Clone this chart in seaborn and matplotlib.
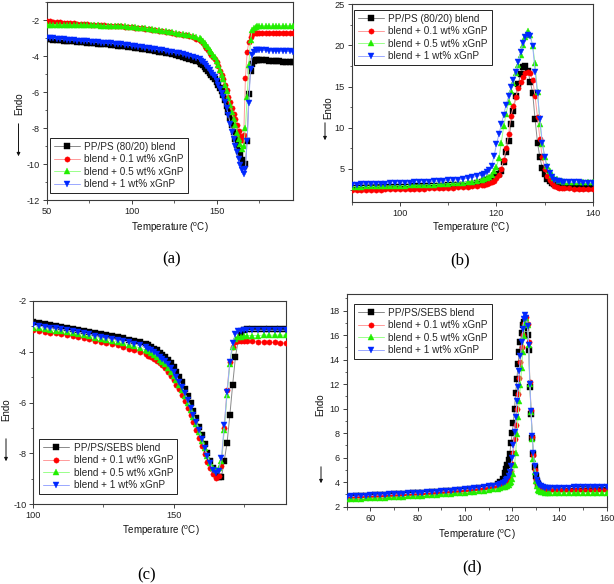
import numpy as np
import matplotlib
matplotlib.use("Agg")
import matplotlib.pyplot as plt
from matplotlib.patches import FancyArrowPatch
from matplotlib.ticker import MultipleLocator
import seaborn as sns

sns.set_style("ticks")
plt.rcParams['font.family'] = ['Liberation Sans', 'DejaVu Sans']
plt.rcParams['axes.unicode_minus'] = False

# ---------------- data ----------------
labels_a = ["PP/PS (80/20) blend", "blend + 0.1 wt% xGnP", "blend + 0.5 wt% xGnP", "blend + 1 wt% xGnP"]
labels_c = ["PP/PS/SEBS blend", "blend + 0.1 wt% xGnP", "blend + 0.5 wt% xGnP", "blend + 1 wt% xGnP"]

# (a) melting, PP/PS
a_temp = [50, 52, 54, 56, 58, 60, 62, 64, 66, 68, 70, 72, 74, 76, 78, 80, 82, 84, 86, 88,
          90, 92, 94, 96, 98, 100, 102, 104, 106, 108, 110, 112, 114, 116, 118, 120, 122, 124, 126, 128,
          130, 132, 134, 136, 138, 140,
          141, 142, 143, 144, 145, 146, 147, 148, 149, 150, 151, 152, 153, 154, 155, 156, 157, 158, 159, 160,
          161, 162, 163, 164, 165, 166, 167, 168, 169, 170, 171, 172, 173, 174, 175,
          177, 179, 181, 183, 185, 187, 189, 191, 193, 195]
a_blend = [-3.05, -3.07, -3.09, -3.10, -3.12, -3.14, -3.16, -3.17, -3.19, -3.20,
           -3.22, -3.24, -3.26, -3.27, -3.29, -3.31, -3.33, -3.35, -3.36, -3.38,
           -3.40, -3.42, -3.45, -3.47, -3.50, -3.52, -3.55, -3.58, -3.60, -3.63,
           -3.66, -3.69, -3.72, -3.76, -3.79, -3.82, -3.86, -3.90, -3.95, -3.99,
           -4.04, -4.09, -4.14, -4.20, -4.27, -4.35,
           -4.42, -4.50, -4.60, -4.70, -4.81, -4.93, -5.05, -5.16, -5.28, -5.44,
           -5.60, -5.76, -5.96, -6.18, -6.44, -6.75, -7.10, -7.46, -7.83, -8.22,
           -8.60, -8.93, -9.25, -9.52, -9.80, -10.10, -10.00, -8.70, -6.10, -4.85,
           -4.43, -4.26, -4.21, -4.20, -4.21,
           -4.22, -4.23, -4.25, -4.27, -4.29, -4.30, -4.32, -4.33, -4.35, -4.36]
a_01 = [-2.05, -2.07, -2.09, -2.11, -2.13, -2.15, -2.16, -2.18, -2.19, -2.21,
        -2.22, -2.23, -2.24, -2.25, -2.27, -2.28, -2.29, -2.30, -2.31, -2.32,
        -2.33, -2.34, -2.35, -2.37, -2.38, -2.40, -2.42, -2.45, -2.47, -2.50,
        -2.52, -2.55, -2.57, -2.60, -2.63, -2.66, -2.69, -2.72, -2.75, -2.79,
        -2.82, -2.86, -2.91, -2.97, -3.04, -3.10,
        -3.17, -3.30, -3.43, -3.55, -3.68, -3.82, -3.96, -4.06, -4.17, -4.36,
        -4.58, -4.82, -5.06, -5.30, -5.60, -5.88, -6.25, -6.55, -6.90, -7.20,
        -7.50, -7.85, -8.15, -8.42, -8.65, -8.40, -5.20, -3.80, -3.20, -2.92,
        -2.78, -2.72, -2.70, -2.70, -2.70,
        -2.70, -2.71, -2.71, -2.72, -2.72, -2.73, -2.73, -2.74, -2.74, -2.74]
a_05 = [-2.25, -2.25, -2.26, -2.26, -2.27, -2.27, -2.27, -2.28, -2.28, -2.28,
        -2.28, -2.29, -2.29, -2.29, -2.30, -2.30, -2.31, -2.31, -2.32, -2.32,
        -2.33, -2.34, -2.35, -2.36, -2.37, -2.38, -2.40, -2.42, -2.44, -2.46,
        -2.48, -2.51, -2.54, -2.56, -2.59, -2.62, -2.65, -2.68, -2.71, -2.75,
        -2.78, -2.82, -2.86, -2.90, -2.95, -3.00,
        -3.08, -3.17, -3.25, -3.37, -3.50, -3.64, -3.79, -3.93, -4.08, -4.30,
        -4.52, -4.80, -5.05, -5.30, -5.60, -5.95, -6.36, -6.73, -7.10, -7.50,
        -7.85, -8.25, -8.60, -8.90, -9.15, -9.00, -8.00, -6.30, -4.50, -3.10,
        -2.55, -2.42, -2.38, -2.36, -2.35,
        -2.34, -2.34, -2.34, -2.34, -2.34, -2.33, -2.33, -2.33, -2.33, -2.33]
a_1 = [-2.98, -3.00, -3.02, -3.04, -3.06, -3.08, -3.09, -3.11, -3.12, -3.14,
       -3.16, -3.17, -3.19, -3.21, -3.22, -3.24, -3.26, -3.27, -3.29, -3.30,
       -3.32, -3.34, -3.36, -3.38, -3.41, -3.43, -3.45, -3.48, -3.50, -3.53,
       -3.56, -3.59, -3.62, -3.65, -3.68, -3.72, -3.75, -3.79, -3.82, -3.86,
       -3.90, -3.94, -3.98, -4.03, -4.10, -4.18,
       -4.25, -4.33, -4.43, -4.55, -4.67, -4.80, -4.93, -5.06, -5.19, -5.40,
       -5.62, -5.84, -6.06, -6.30, -6.55, -6.90, -7.30, -7.75, -8.23, -8.60,
       -8.98, -9.35, -9.70, -10.05, -10.35, -10.58, -10.30, -8.70, -6.60, -4.70,
       -3.95, -3.75, -3.69, -3.68, -3.68,
       -3.68, -3.69, -3.70, -3.70, -3.71, -3.72, -3.73, -3.73, -3.74, -3.75]

# (b) crystallization, PP/PS
b_temp = [90, 91, 92, 93, 94, 95, 96, 97, 98, 99, 100, 101, 102, 103, 104, 105, 106, 107, 108, 109,
          110, 111, 112, 113, 114, 115, 116, 117,
          117.5, 118, 118.5, 119, 119.5, 120, 120.5, 121, 121.5, 122,
          122.5, 123, 123.5, 124, 124.5, 125, 125.5, 126, 126.5, 127,
          127.5, 128, 128.5, 129, 129.5, 130, 130.5, 131, 131.5, 132,
          132.5, 133, 133.5, 134,
          135, 136, 137, 138, 139, 140]
b_blend = [2.75, 2.76, 2.77, 2.78, 2.79, 2.80, 2.81, 2.82, 2.83, 2.84,
           2.85, 2.86, 2.87, 2.88, 2.90, 2.91, 2.92, 2.94, 2.96, 2.98,
           3.00, 3.02, 3.05, 3.08, 3.12, 3.20, 3.30, 3.45,
           3.55, 3.65, 3.80, 3.95, 4.10, 4.25, 4.40, 4.80, 5.80, 7.00,
           8.40, 10.40, 12.00, 13.80, 15.30, 16.50, 17.40, 17.50, 16.90, 15.60,
           14.20, 11.00, 8.20, 6.40, 5.10, 4.40, 3.80, 3.50, 3.30, 3.15,
           3.05, 2.95, 2.88, 2.83,
           2.80, 2.77, 2.75, 2.73, 2.72, 2.70]
b_01 = [2.45, 2.46, 2.47, 2.48, 2.49, 2.50, 2.51, 2.52, 2.53, 2.54,
        2.55, 2.56, 2.58, 2.59, 2.60, 2.62, 2.64, 2.66, 2.68, 2.70,
        2.72, 2.74, 2.77, 2.80, 2.84, 2.90, 2.97, 3.06,
        3.12, 3.20, 3.30, 3.42, 3.60, 3.85, 4.30, 5.00, 6.10, 7.50,
        9.20, 11.40, 12.60, 13.70, 14.80, 15.60, 16.20, 16.60, 16.80, 16.60,
        15.80, 13.80, 11.30, 8.60, 6.40, 5.00, 4.20, 3.70, 3.30, 2.95,
        2.80, 2.72, 2.68, 2.66,
        2.64, 2.63, 2.62, 2.62, 2.61, 2.60]
b_05 = [2.85, 2.86, 2.87, 2.88, 2.89, 2.90, 2.92, 2.93, 2.94, 2.96,
        2.97, 2.99, 3.01, 3.03, 3.05, 3.07, 3.09, 3.12, 3.15, 3.18,
        3.21, 3.25, 3.29, 3.34, 3.40, 3.48, 3.58, 3.72,
        3.80, 3.90, 4.05, 4.30, 4.70, 5.30, 6.30, 8.20, 10.20, 11.70,
        13.10, 14.40, 15.40, 16.60, 17.60, 18.80, 20.00, 21.00, 21.70, 21.30,
        19.90, 17.80, 14.30, 10.50, 8.00, 6.40, 5.40, 4.70, 4.30, 3.95,
        3.75, 3.60, 3.52, 3.48,
        3.44, 3.42, 3.41, 3.40, 3.40, 3.40]
b_1 = [3.10, 3.12, 3.14, 3.16, 3.18, 3.20, 3.22, 3.24, 3.26, 3.28,
       3.30, 3.32, 3.34, 3.37, 3.40, 3.43, 3.46, 3.50, 3.54, 3.58,
       3.62, 3.67, 3.72, 3.80, 3.88, 3.98, 4.12, 4.30,
       4.42, 4.60, 4.90, 5.40, 6.60, 8.00, 9.20, 10.40, 11.60, 12.80,
       13.80, 14.90, 15.80, 16.80, 18.00, 19.20, 20.30, 21.00, 21.30, 21.10,
       19.90, 16.80, 14.20, 11.00, 8.20, 6.40, 5.20, 4.50, 4.00, 3.70,
       3.58, 3.50, 3.45, 3.42,
       3.40, 3.38, 3.37, 3.36, 3.35, 3.35]

# (c) melting, PP/PS/SEBS
c_temp = [100, 102, 104, 106, 108, 110, 112, 114, 116, 118, 120, 122, 124, 126, 128, 130, 132, 134, 136, 138, 140,
          141, 142, 143, 144, 145, 146, 147, 148, 149, 150, 151, 152, 153, 154, 155, 156, 157, 158, 159, 160,
          161, 162, 163, 164, 165, 166, 167, 168, 169, 170, 171, 172, 173, 174, 175,
          176, 178, 180, 182, 184, 186, 188, 190]
c_blend = [-2.82, -2.86, -2.90, -2.94, -2.98, -3.01, -3.05, -3.09, -3.13, -3.17,
           -3.21, -3.26, -3.30, -3.34, -3.38, -3.42, -3.47, -3.52, -3.57, -3.63, -3.70,
           -3.75, -3.81, -3.88, -3.95, -4.03, -4.11, -4.20, -4.32, -4.45, -4.60,
           -4.80, -5.00, -5.20, -5.47, -5.75, -6.03, -6.32, -6.62, -6.95, -7.30,
           -7.65, -8.00, -8.30, -8.60, -8.82, -8.95, -8.95, -8.30, -7.60, -6.50,
           -5.30, -4.20, -3.55, -3.25, -3.15,
           -3.12, -3.11, -3.10, -3.10, -3.10, -3.10, -3.10, -3.10]
c_01 = [-3.15, -3.18, -3.22, -3.25, -3.28, -3.32, -3.35, -3.39, -3.43, -3.47,
        -3.51, -3.56, -3.60, -3.65, -3.70, -3.75, -3.81, -3.88, -3.95, -4.02, -4.10,
        -4.16, -4.22, -4.29, -4.36, -4.44, -4.54, -4.65, -4.80, -4.96, -5.12,
        -5.30, -5.48, -5.70, -5.95, -6.20, -6.50, -6.78, -7.07, -7.40, -7.72,
        -8.02, -8.33, -8.60, -8.82, -8.98, -8.90, -8.50, -7.00, -5.50, -4.40,
        -3.80, -3.62, -3.58, -3.57, -3.57,
        -3.58, -3.59, -3.60, -3.61, -3.62, -3.63, -3.64, -3.65]
c_05 = [-3.05, -3.08, -3.11, -3.14, -3.17, -3.20, -3.23, -3.27, -3.31, -3.35,
        -3.39, -3.44, -3.48, -3.52, -3.57, -3.62, -3.67, -3.72, -3.78, -3.85, -3.93,
        -3.99, -4.06, -4.14, -4.22, -4.31, -4.40, -4.50, -4.63, -4.78, -4.95,
        -5.13, -5.31, -5.50, -5.74, -6.00, -6.28, -6.56, -6.85, -7.17, -7.50,
        -7.80, -8.10, -8.38, -8.57, -8.65, -8.60, -8.30, -7.10, -5.70, -4.50,
        -3.80, -3.50, -3.42, -3.40, -3.38,
        -3.37, -3.36, -3.36, -3.35, -3.35, -3.35, -3.35, -3.35]
c_1 = [-2.95, -2.98, -3.02, -3.05, -3.08, -3.12, -3.15, -3.19, -3.23, -3.27,
       -3.31, -3.36, -3.40, -3.44, -3.48, -3.52, -3.57, -3.62, -3.68, -3.75, -3.82,
       -3.88, -3.95, -4.02, -4.10, -4.19, -4.28, -4.38, -4.50, -4.64, -4.80,
       -4.98, -5.18, -5.38, -5.64, -5.92, -6.20, -6.50, -6.78, -7.10, -7.45,
       -7.78, -8.10, -8.40, -8.65, -8.78, -8.70, -8.20, -6.90, -5.60, -4.40,
       -3.65, -3.30, -3.20, -3.17, -3.16,
       -3.16, -3.15, -3.15, -3.15, -3.15, -3.15, -3.15, -3.15]

# (d) crystallization, PP/PS/SEBS
d_temp = [50, 52, 54, 56, 58, 60, 62, 64, 66, 68, 70, 72, 74, 76, 78, 80, 82, 84, 86, 88,
          90, 92, 94, 96, 98, 100, 102, 104, 106, 108, 110, 112, 114,
          115, 116, 117, 117.5, 118, 118.5, 119, 119.5, 120, 120.5,
          121, 121.5, 122, 122.5, 123, 123.5, 124, 124.5, 125, 125.5,
          126, 126.5, 127, 127.5, 128, 128.5, 129, 129.5, 130, 130.5,
          131, 131.5, 132, 133, 134, 135, 136,
          138, 140, 142, 144, 146, 148, 150, 152, 154, 156, 158, 160]
d_blend = [2.80, 2.82, 2.84, 2.86, 2.88, 2.90, 2.92, 2.94, 2.96, 2.98,
           3.00, 3.02, 3.04, 3.06, 3.08, 3.10, 3.12, 3.14, 3.16, 3.19,
           3.22, 3.25, 3.28, 3.31, 3.34, 3.37, 3.41, 3.45, 3.50, 3.55,
           3.62, 3.70, 3.82,
           4.00, 4.30, 4.75, 5.05, 5.40, 5.85, 6.30, 7.20, 8.00, 8.80,
           10.00, 11.30, 12.40, 13.60, 14.60, 15.40, 16.20, 16.80, 17.10, 16.90,
           16.60, 16.00, 14.80, 11.80, 9.60, 7.60, 6.30, 5.20, 4.50, 4.10,
           3.85, 3.70, 3.62, 3.53, 3.49, 3.46, 3.45,
           3.44, 3.44, 3.45, 3.45, 3.46, 3.46, 3.47, 3.47, 3.48, 3.48, 3.49, 3.50]
d_01 = [2.72, 2.74, 2.76, 2.78, 2.80, 2.82, 2.84, 2.86, 2.88, 2.90,
        2.92, 2.94, 2.96, 2.98, 3.00, 3.02, 3.04, 3.07, 3.10, 3.13,
        3.16, 3.19, 3.22, 3.25, 3.28, 3.31, 3.35, 3.39, 3.44, 3.49,
        3.55, 3.62, 3.70,
        3.75, 3.82, 3.92, 4.00, 4.10, 4.25, 4.50, 4.90, 5.50, 6.40,
        7.50, 8.70, 10.00, 11.20, 12.50, 13.80, 15.00, 16.00, 16.90, 17.40,
        17.50, 16.90, 15.40, 12.20, 9.90, 7.70, 6.20, 5.00, 4.30, 3.90,
        3.65, 3.52, 3.45, 3.40, 3.38, 3.37, 3.37,
        3.37, 3.37, 3.37, 3.37, 3.38, 3.38, 3.38, 3.38, 3.39, 3.39, 3.39, 3.40]
d_05 = [2.60, 2.62, 2.63, 2.65, 2.67, 2.69, 2.70, 2.72, 2.74, 2.76,
        2.78, 2.80, 2.82, 2.84, 2.86, 2.88, 2.90, 2.92, 2.94, 2.97,
        3.00, 3.03, 3.06, 3.09, 3.12, 3.15, 3.18, 3.22, 3.26, 3.30,
        3.35, 3.41, 3.48,
        3.52, 3.57, 3.63, 3.67, 3.72, 3.80, 3.90, 4.05, 4.30, 4.70,
        5.40, 6.40, 7.90, 9.30, 10.60, 11.90, 13.30, 14.60, 15.90, 17.00,
        17.40, 16.80, 15.20, 12.00, 9.70, 7.50, 5.90, 4.80, 4.10, 3.65,
        3.40, 3.28, 3.20, 3.16, 3.14, 3.13, 3.13,
        3.13, 3.13, 3.13, 3.13, 3.14, 3.14, 3.14, 3.14, 3.15, 3.15, 3.15, 3.15]
d_1 = [2.82, 2.84, 2.86, 2.88, 2.90, 2.92, 2.94, 2.96, 2.98, 3.00,
       3.02, 3.04, 3.06, 3.08, 3.10, 3.12, 3.14, 3.17, 3.20, 3.23,
       3.26, 3.29, 3.32, 3.35, 3.38, 3.41, 3.45, 3.49, 3.54, 3.59,
       3.65, 3.72, 3.80,
       3.86, 3.94, 4.05, 4.15, 4.30, 4.50, 4.80, 5.30, 6.00, 7.00,
       8.10, 9.30, 10.60, 11.80, 13.10, 14.30, 15.40, 16.50, 17.30, 17.65,
       17.40, 16.70, 15.20, 12.00, 9.80, 7.80, 6.40, 5.30, 4.60, 4.20,
       3.95, 3.80, 3.70, 3.60, 3.56, 3.54, 3.53,
       3.53, 3.54, 3.55, 3.56, 3.57, 3.58, 3.59, 3.60, 3.61, 3.62, 3.63, 3.64]

# ---------------- styling ----------------
W, H = 614, 584
marker_cols = ["#000000", "#ff0000", "#22ee00", "#0028ff"]
line_cols = ["#8a8a8a", "#ff9a9a", "#9aff8a", "#9aa8ff"]
markers = ["s", "o", "^", "v"]
FS = 6.6
LFS = 7.2

fig = plt.figure(figsize=(W / 100, H / 100), dpi=100)


def rect(x0, y0, x1, y1):
    return [x0 / W, 1 - y1 / H, (x1 - x0) / W, (y1 - y0) / H]


def fp(x, y):
    return (x / W, 1 - y / H)


panels = [
    dict(rect=rect(46.7, 2, 293, 200), temp=a_temp, series=[a_blend, a_01, a_05, a_1], labels=labels_a,
         xlim=(50, 195), ylim=(-12, -1), xmaj=50, xmin=25, ymaj=2, ymin=1,
         leg=dict(loc="lower left", bbox_to_anchor=(0.013, 0.035)),
         xlab=(170, 228), endo=(19, 104), arrow=((18.5, 121), (18.5, 159)), cap=("(a)", 172, 259)),
    dict(rect=rect(351.7, 4, 593, 202), temp=b_temp, series=[b_blend, b_01, b_05, b_1], labels=labels_a,
         xlim=(90, 140), ylim=(1, 25), xmaj=20, xmin=10, ymaj=5, ymin=2.5,
         leg=dict(loc="upper left", bbox_to_anchor=(0.0095, 0.97)),
         xlab=(471, 228), endo=(328, 108), arrow=((325, 120), (325, 143)), cap=("(b)", 460, 260)),
    dict(rect=rect(33.3, 301, 286, 504), temp=c_temp, series=[c_blend, c_01, c_05, c_1], labels=labels_c,
         xlim=(100, 190), ylim=(-10, -2), xmaj=50, xmin=25, ymaj=2, ymin=1,
         leg=dict(loc="lower left", bbox_to_anchor=(0.0226, 0.049)),
         xlab=(161, 531), endo=(6, 410), arrow=((6, 436), (6, 464)), cap=("(c)", 147, 575)),
    dict(rect=rect(346.7, 294, 606.7, 506.7), temp=d_temp, series=[d_blend, d_01, d_05, d_1], labels=labels_c,
         xlim=(50, 160), ylim=(2, 19.35), xmaj=20, xmin=10, ymaj=2, ymin=1,
         leg=dict(loc="upper left", bbox_to_anchor=(0.028, 0.953)),
         xlab=(477, 535), endo=(320, 405), arrow=((321, 464), (321, 486)), cap=("(d)", 472, 567)),
]

for p in panels:
    ax = fig.add_axes(p["rect"])
    for i, vals in enumerate(p["series"]):
        sns.lineplot(x=p["temp"], y=vals, ax=ax, estimator=None, sort=False,
                     color=line_cols[i], linewidth=0.7, marker=markers[i], markersize=3.8,
                     markerfacecolor=marker_cols[i], markeredgecolor=marker_cols[i],
                     markeredgewidth=0.3, label=p["labels"][i], zorder=2 + i)
    ax.set_xlim(*p["xlim"])
    ax.set_ylim(*p["ylim"])
    ax.xaxis.set_major_locator(MultipleLocator(p["xmaj"]))
    ax.xaxis.set_minor_locator(MultipleLocator(p["xmin"]))
    ax.yaxis.set_major_locator(MultipleLocator(p["ymaj"]))
    ax.yaxis.set_minor_locator(MultipleLocator(p["ymin"]))
    ax.tick_params(which="major", direction="out", length=3, width=0.6, labelsize=FS, pad=2,
                   colors="#222222", top=False, right=False)
    ax.tick_params(which="minor", direction="out", length=1.8, width=0.5, top=False, right=False,
                   colors="#222222")
    for s in ax.spines.values():
        s.set_visible(True)
        s.set_linewidth(0.8)
        s.set_color("#3a3a3a")
    ax.set_xlabel("")
    ax.set_ylabel("")
    leg = ax.legend(fontsize=LFS, frameon=True, fancybox=False, edgecolor="#222222", framealpha=1,
                    handlelength=2.6, handletextpad=0.45, borderpad=0.4, labelspacing=0.25,
                    borderaxespad=0, **p["leg"])
    leg.get_frame().set_linewidth(0.7)

    fig.text(*fp(*p["xlab"]), "Temperature ($^{\\mathregular{o}}$C)", ha="center", va="center",
             fontsize=FS + 0.4, color="#111111")
    fig.text(*fp(*p["endo"]), "Endo", rotation=90, ha="center", va="center",
             fontsize=FS + 0.4, color="#111111")
    (ax0, ay0), (ax1, ay1) = p["arrow"]
    fig.add_artist(FancyArrowPatch(fp(ax0, ay0), fp(ax1, ay1), transform=fig.transFigure,
                                   arrowstyle="-|>", mutation_scale=5, lw=0.7, color="#111111"))
    cap, cx, cy = p["cap"]
    fig.text(*fp(cx, cy), cap, ha="center", va="center", fontsize=12,
             family=["Liberation Serif", "DejaVu Serif"], color="#000000")

fig.savefig("out.png", dpi=100)
